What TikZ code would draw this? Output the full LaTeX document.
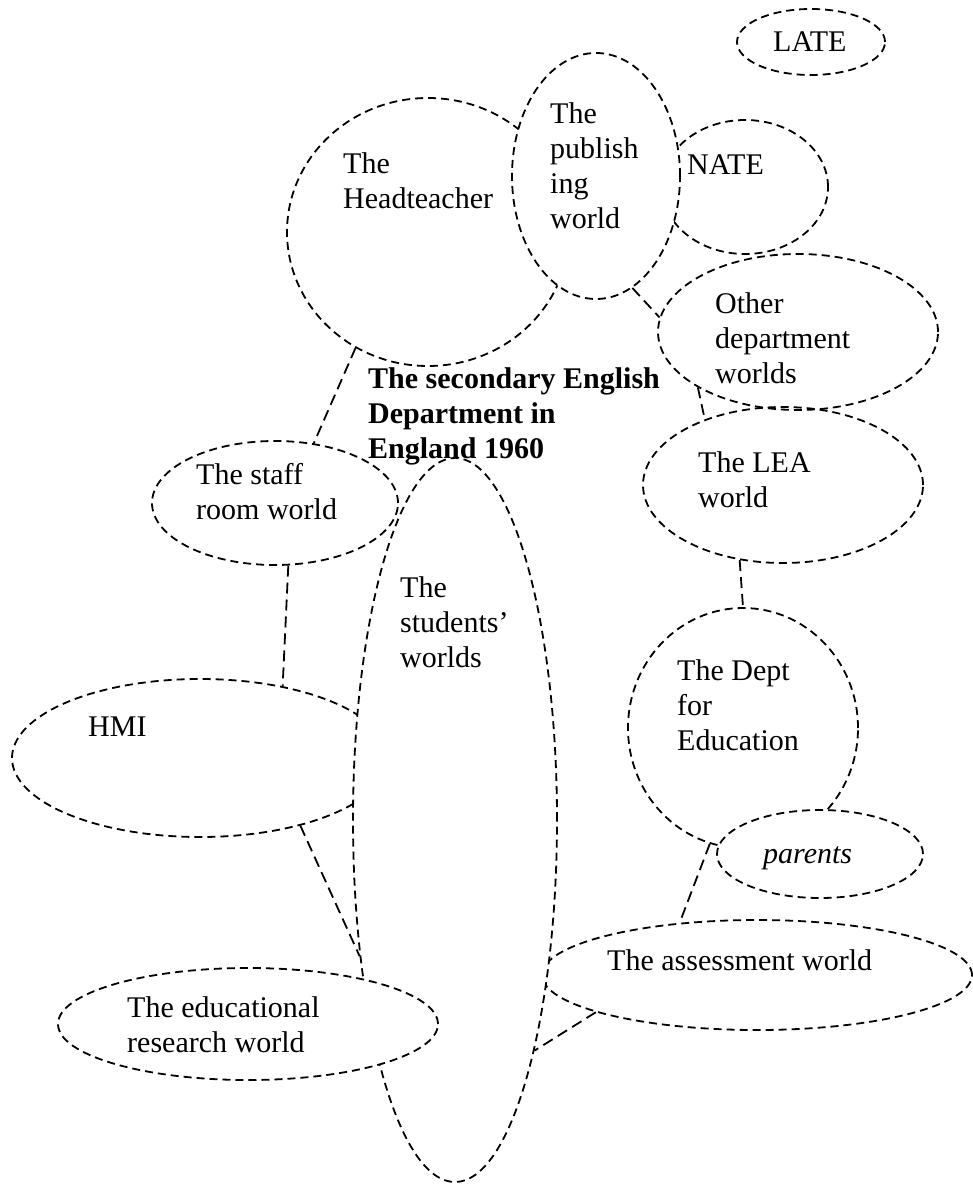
\documentclass[tikz,border=0pt]{standalone}
\usepackage{fontspec}
\setmainfont{Liberation Serif}
\usetikzlibrary{shapes.geometric}
\begin{document}
\begin{tikzpicture}[x=1pt,y=-1pt,
  world/.style={ellipse, draw, line width=1.8pt, dash pattern=on 8pt off 5pt, inner sep=0pt},
  front/.style={fill=white},
  link/.style={draw, line width=1.8pt, dash pattern=on 11pt off 6pt},
  txt/.style={anchor=north west, inner sep=0pt, align=left, font=\fontsize{30}{35}\selectfont}]
\path[use as bounding box] (0,0) rectangle (972,1190);
% back shapes
\node[world, minimum width=376pt, minimum height=158pt] (hmi) at (200,758) {};
\node[world, minimum width=430pt, minimum height=110pt] (assess) at (757,975) {};
\node[world, front, minimum width=204pt, minimum height=724pt] (stud) at (455,820) {};
\node[world, front, minimum width=380pt, minimum height=112pt] (res) at (248,1024) {};
\node[world, minimum width=246pt, minimum height=124pt] (staff) at (275,503) {};
\node[world, minimum width=282pt, minimum height=268pt] (head) at (428,232) {};
\node[world, minimum width=166pt, minimum height=134pt] (nate) at (745,187) {};
\node[world, front, minimum width=168pt, minimum height=246pt] (pub) at (596,176) {};
\node[world, minimum width=280pt, minimum height=156pt] (other) at (798,332) {};
\node[world, minimum width=280pt, minimum height=156pt] (lea) at (783,485) {};
\node[world, minimum width=230pt, minimum height=240pt] (dept) at (743,728) {};
\node[world, front, minimum width=206pt, minimum height=88pt] (par) at (820,854) {};
\node[world, minimum width=148pt, minimum height=66pt] (late) at (811,42) {};
% connectors
\path[link] (head.-122) -- (staff.57);
\path[link] (pub.-72) -- (other.174);
\path[link] (other.-151) -- (lea.140);
\path[link] (lea.-120) -- (dept.90);
\path[link] (dept.-106) -- (assess.146);
\path[link] (staff.-78) -- (hmi.41);
\path[link] (hmi.-34) -- (stud.-125.5);
\path[link] (assess.-167) -- (stud.-71);
% texts
\node[txt] (lateT) at (773,31) {LATE};
\node[txt] (headT) at (343,152) {The\\Headteacher};
\node[txt] (pubT) at (550,102) {The\\publish\\ing\\world};
\node[txt] (nateT) at (687,154) {NATE};
\node[txt] (otherT) at (715,292) {Other\\department\\worlds};
\node[txt, font=\fontsize{30}{35}\selectfont\bfseries] (title) at (368,367) {The secondary English\\Department in\\England 1960};
\node[txt] (leaT) at (698,451) {The LEA\\world};
\node[txt] (staffT) at (196,463) {The staff\\room world};
\node[txt] (studT) at (400,576) {The\\students’\\worlds};
\node[txt] (deptT) at (677,659) {The Dept\\for\\Education};
\node[txt] (hmiT) at (88,717) {HMI};
\node[txt, anchor=base west, font=\fontsize{30}{35}\selectfont\itshape] (parT) at (763,863) {parents};
\node[txt] (assessT) at (607,949) {The assessment world};
\node[txt] (resT) at (127,996) {The educational\\research world};
\end{tikzpicture}
\end{document}
